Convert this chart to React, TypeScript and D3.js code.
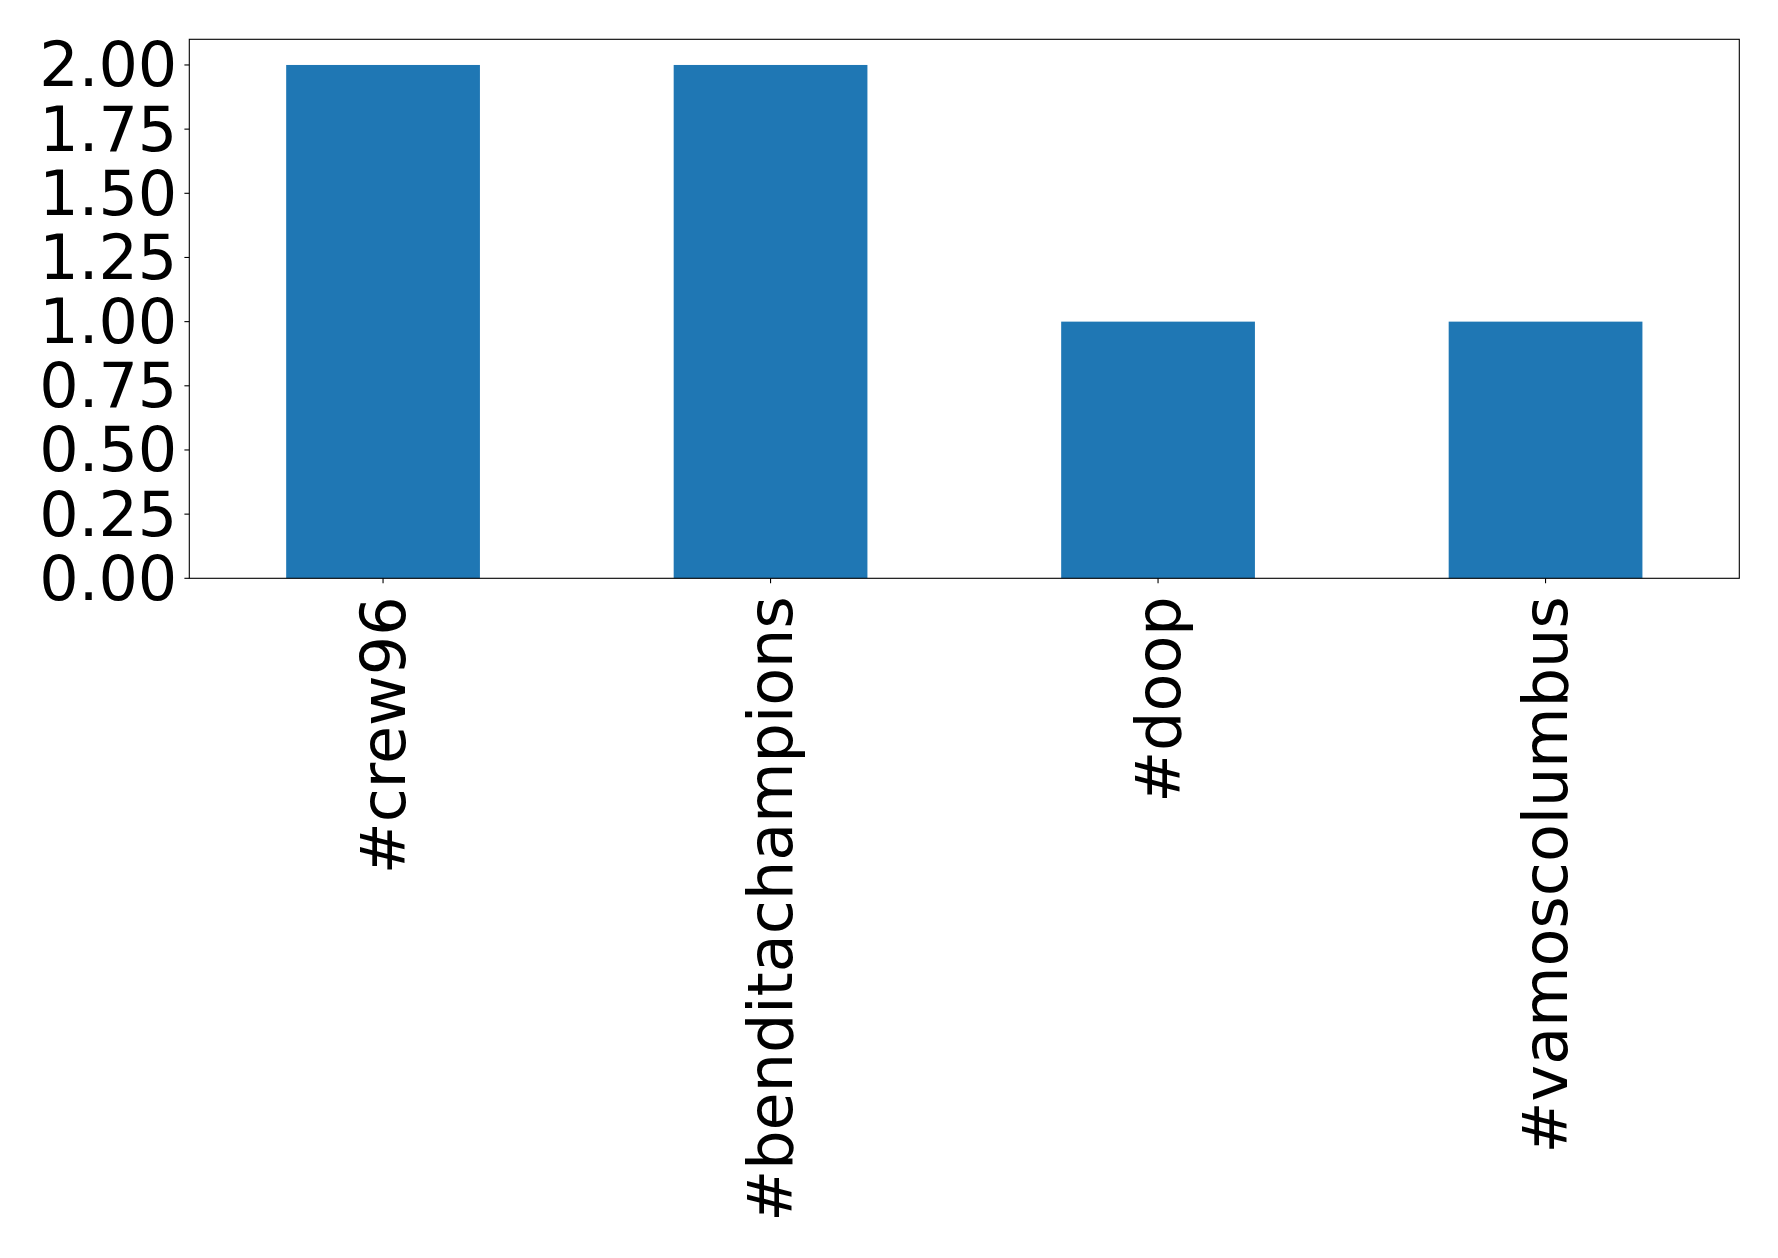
import React from "react";
import * as d3 from "d3";

const categories = ["#crew96", "#benditachampions", "#doop", "#vamoscolumbus"];
const values = [2, 2, 1, 1];
const yTicks = [0, 0.25, 0.5, 0.75, 1.0, 1.25, 1.5, 1.75, 2.0];

const W = 1778;
const H = 1258;
const left = 189.3;
const right = 1739.3;
const top = 39.3;
const bottom = 578.3;
const FONT = "DejaVu Sans, sans-serif";
const FS = 62;

export default function App() {
  const x = d3
    .scaleBand<string>()
    .domain(categories)
    .range([left, right])
    .paddingInner(0.5)
    .paddingOuter(0.25);
  const y = d3.scaleLinear().domain([0, 2.1]).range([bottom, top]);

  return (
    <svg
      width={W}
      height={H}
      style={{ position: "absolute", left: 0, top: 0, background: "white" }}
    >
      <rect x={0} y={0} width={W} height={H} fill="white" />
      {categories.map((c, i) => (
        <rect
          key={c}
          x={x(c)}
          y={y(values[i])}
          width={x.bandwidth()}
          height={y(0) - y(values[i])}
          fill="#1f77b4"
        />
      ))}
      <rect
        x={left}
        y={top}
        width={right - left}
        height={bottom - top}
        fill="none"
        stroke="black"
        strokeWidth={1.1}
      />
      {yTicks.map((t) => (
        <g key={t}>
          <line x1={left - 4.9} x2={left} y1={y(t)} y2={y(t)} stroke="black" strokeWidth={1.1} />
          <text
            x={left - 12}
            y={y(t)}
            textAnchor="end"
            dominantBaseline="central"
            fontFamily={FONT}
            fontSize={FS}
            fill="black"
          >
            {t.toFixed(2)}
          </text>
        </g>
      ))}
      {categories.map((c) => {
        const cx = (x(c) as number) + x.bandwidth() / 2;
        return (
          <g key={c}>
            <line x1={cx} x2={cx} y1={bottom} y2={bottom + 4.9} stroke="black" strokeWidth={1.1} />
            <text
              transform={`translate(${cx},${bottom + 18}) rotate(-90)`}
              textAnchor="end"
              dominantBaseline="central"
              fontFamily={FONT}
              fontSize={FS}
              fill="black"
            >
              {c}
            </text>
          </g>
        );
      })}
    </svg>
  );
}
